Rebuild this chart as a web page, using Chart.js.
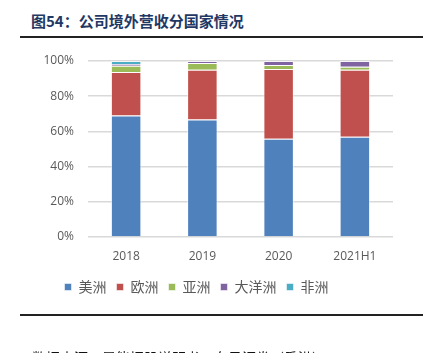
<!DOCTYPE html>
<html>
<head>
<meta charset="utf-8">
<script src="https://cdn.jsdelivr.net/npm/chart.js@4"></script>
<style>
  html, body { margin: 0; padding: 0; background: #fff; }
  #wrap { position: relative; width: 432px; height: 353px; overflow: hidden; }
  #title { position: absolute; left: 31px; top: 10px; font: bold 15px "Noto Sans CJK SC", sans-serif; color: #1f3864; white-space: nowrap; }
  .rule { position: absolute; left: 20px; width: 403px; background: #222; }
  #source { position: absolute; left: 32px; top: 347px; font: 14px "Noto Sans CJK SC", sans-serif; color: #111; white-space: nowrap; }
  #c { position: absolute; left: 0; top: 0; }
</style>
</head>
<body>
<div id="wrap">
  <div id="title">图54：公司境外营收分国家情况</div>
  <div class="rule" style="top:36px;height:2px"></div>
  <canvas id="c" width="432" height="353"></canvas>
  <div class="rule" style="top:314px;height:2px"></div>
  <div id="source">数据来源：昇能招股说明书，东吴证券（香港）</div>
</div>
<script>
var labels = ["2018", "2019", "2020", "2021H1"];
var america = [69.0, 66.8, 55.8, 57.0];
var europe = [24.8, 28.2, 39.7, 38.0];
var asia = [3.5, 3.8, 2.2, 1.7];
var oceania = [1.0, 1.2, 2.3, 3.3];
var africa = [1.7, 0.0, 0.0, 0.0];
var yTicks = [0, 20, 40, 60, 80, 100];

function ds(label, data, color) {
  return {
    label: label,
    data: data,
    backgroundColor: color,
    borderColor: "rgba(255,255,255,0.55)",
    borderWidth: 1,
    barPercentage: 0.4,
    categoryPercentage: 1.0
  };
}

var ctx = document.getElementById("c").getContext("2d");
new Chart(ctx, {
  type: "bar",
  data: {
    labels: labels,
    datasets: [
      ds("美洲", america, "#4f81bd"),
      ds("欧洲", europe, "#c0504d"),
      ds("亚洲", asia, "#9bbb59"),
      ds("大洋洲", oceania, "#8064a2"),
      ds("非洲", africa, "#4bacc6")
    ]
  },
  options: {
    responsive: false,
    animation: false,
    layout: { padding: { top: 61, left: 0, right: 39, bottom: 49 } },
    plugins: {
      tooltip: { enabled: false },
      legend: {
        position: "bottom",
        labels: {
          boxWidth: 7,
          boxHeight: 7,
          padding: 10,
          color: "#595959",
          font: { family: "Noto Sans CJK SC", size: 14 }
        }
      }
    },
    scales: {
      x: {
        stacked: true,
        grid: { display: false, drawTicks: false },
        border: { display: false },
        ticks: { color: "#595959", padding: 12, font: { family: "Open Sans", size: 12 } },
        afterFit: function (s) { s.height = 33; }
      },
      y: {
        stacked: true,
        min: 0,
        max: 100,
        afterBuildTicks: function (s) { s.ticks = yTicks.map(function (v) { return { value: v }; }); },
        grid: { color: "#d9d9d9", lineWidth: 1.5, drawTicks: false },
        border: { display: false },
        ticks: {
          color: "#595959",
          padding: 14,
          font: { family: "Open Sans", size: 12 },
          callback: function (v) { return v + "%"; }
        },
        afterFit: function (s) { s.width = 88; }
      }
    }
  }
});
</script>
</body>
</html>
